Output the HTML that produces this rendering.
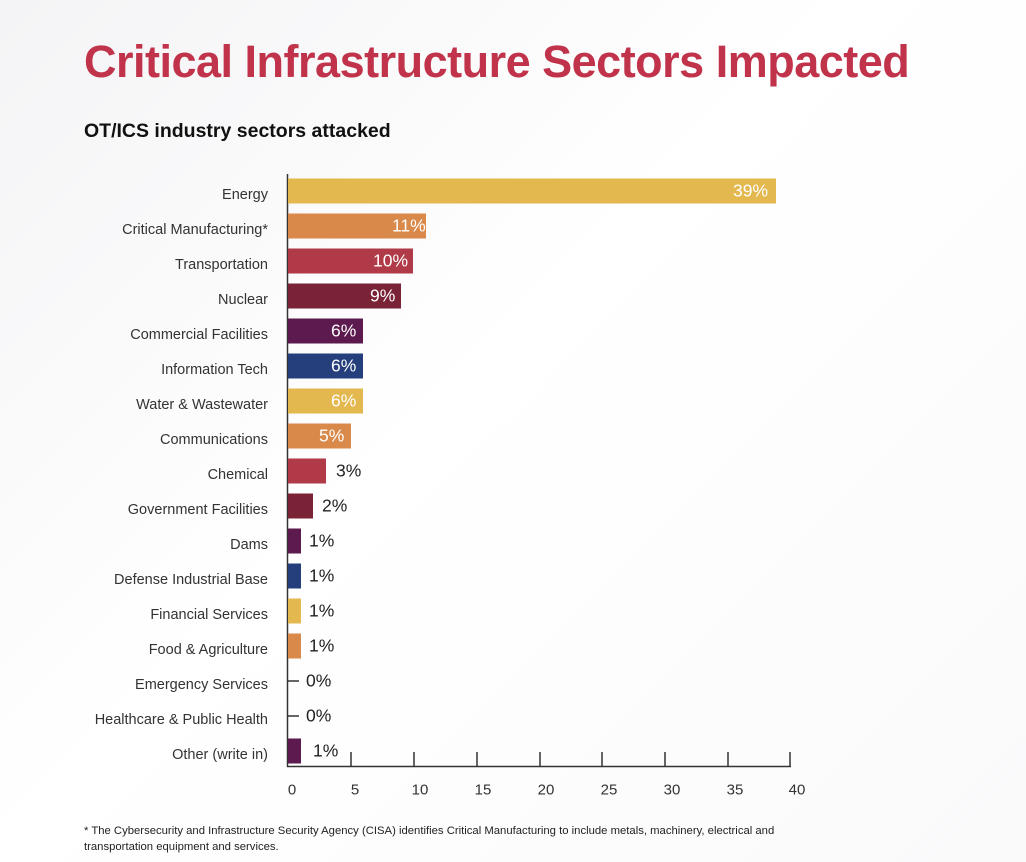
<!DOCTYPE html>
<html><head><meta charset="utf-8"><style>
body{margin:0;width:1026px;height:862px;background:#fff;font-family:"Liberation Sans",sans-serif;overflow:hidden;position:relative}
.bgs{position:absolute;left:0;top:0;width:1026px;height:862px;background:linear-gradient(135deg,#f4f4f6 0%,#fff 45%,#fafafb 100%)}
h1{position:absolute;left:84px;top:36px;margin:0;font-size:45px;font-weight:bold;color:#c0334a;letter-spacing:-0.5px}
h2{position:absolute;left:84px;top:120px;margin:0;font-size:19.5px;font-weight:bold;color:#111}
.lab{position:absolute;right:758px;font-size:14.5px;color:#333;white-space:nowrap;transform:translateY(-50%)}
.bar{position:absolute;left:288px;height:25px;transform:translateY(-50%)}
.v{position:absolute;font-size:17.5px;transform:translateY(-50%);white-space:nowrap}
.in{color:#fff}
.out{color:#222}
.tk{position:absolute;font-size:15px;color:#333;transform:translate(-50%,-50%)}
.fn{position:absolute;left:84px;font-size:11.3px;color:#222}
</style></head><body>
<div class="bgs"></div>
<h1>Critical Infrastructure Sectors Impacted</h1>
<h2>OT/ICS industry sectors attacked</h2>
<svg style="position:absolute;left:0;top:0" width="1026" height="862">
<line x1="287.5" y1="174" x2="287.5" y2="767" stroke="#333" stroke-width="1.5"/>
<line x1="287" y1="766.5" x2="791" y2="766.5" stroke="#333" stroke-width="1.5"/>
<g stroke="#333" stroke-width="1.5">
<line x1="351" y1="752" x2="351" y2="767"/><line x1="414" y1="752" x2="414" y2="767"/><line x1="477" y1="752" x2="477" y2="767"/><line x1="540" y1="752" x2="540" y2="767"/><line x1="602" y1="752" x2="602" y2="767"/><line x1="665" y1="752" x2="665" y2="767"/><line x1="728" y1="752" x2="728" y2="767"/><line x1="790" y1="752" x2="790" y2="767"/>
<line x1="288" y1="681" x2="299" y2="681"/><line x1="288" y1="716" x2="299" y2="716"/>
</g>
</svg>
<div class="lab" style="top:195px">Energy</div>
<div class="lab" style="top:230px">Critical Manufacturing*</div>
<div class="lab" style="top:265px">Transportation</div>
<div class="lab" style="top:300px">Nuclear</div>
<div class="lab" style="top:335px">Commercial Facilities</div>
<div class="lab" style="top:370px">Information Tech</div>
<div class="lab" style="top:405px">Water &amp; Wastewater</div>
<div class="lab" style="top:440px">Communications</div>
<div class="lab" style="top:475px">Chemical</div>
<div class="lab" style="top:510px">Government Facilities</div>
<div class="lab" style="top:545px">Dams</div>
<div class="lab" style="top:580px">Defense Industrial Base</div>
<div class="lab" style="top:615px">Financial Services</div>
<div class="lab" style="top:650px">Food &amp; Agriculture</div>
<div class="lab" style="top:685px">Emergency Services</div>
<div class="lab" style="top:720px">Healthcare &amp; Public Health</div>
<div class="lab" style="top:755px">Other (write in)</div>

<div class="bar" style="top:191px;width:488px;background:#e2b84f"></div><div class="v in" style="top:191px;left:733px">39%</div>
<div class="bar" style="top:226px;width:138px;background:#d9894a"></div><div class="v in" style="top:226px;left:392px">11%</div>
<div class="bar" style="top:261px;width:125px;background:#b03a48"></div><div class="v in" style="top:261px;left:373px">10%</div>
<div class="bar" style="top:296px;width:113px;background:#7a2236"></div><div class="v in" style="top:296px;left:370px">9%</div>
<div class="bar" style="top:331px;width:75px;background:#5c1a4e"></div><div class="v in" style="top:331px;left:331px">6%</div>
<div class="bar" style="top:366px;width:75px;background:#243f7c"></div><div class="v in" style="top:366px;left:331px">6%</div>
<div class="bar" style="top:401px;width:75px;background:#e2b84f"></div><div class="v in" style="top:401px;left:331px">6%</div>
<div class="bar" style="top:436px;width:63px;background:#d9894a"></div><div class="v in" style="top:436px;left:319px">5%</div>
<div class="bar" style="top:471px;width:38px;background:#b03a48"></div><div class="v out" style="top:471px;left:336px">3%</div>
<div class="bar" style="top:506px;width:25px;background:#7a2236"></div><div class="v out" style="top:506px;left:322px">2%</div>
<div class="bar" style="top:541px;width:13px;background:#5c1a4e"></div><div class="v out" style="top:541px;left:309px">1%</div>
<div class="bar" style="top:576px;width:13px;background:#243f7c"></div><div class="v out" style="top:576px;left:309px">1%</div>
<div class="bar" style="top:611px;width:13px;background:#e2b84f"></div><div class="v out" style="top:611px;left:309px">1%</div>
<div class="bar" style="top:646px;width:13px;background:#d9894a"></div><div class="v out" style="top:646px;left:309px">1%</div>
<div class="v out" style="top:681px;left:306px">0%</div>
<div class="v out" style="top:716px;left:306px">0%</div>
<div class="bar" style="top:751px;width:13px;background:#5c1a4e"></div><div class="v out" style="top:751px;left:313px">1%</div>

<div class="tk" style="left:292px;top:790px">0</div>
<div class="tk" style="left:355px;top:790px">5</div>
<div class="tk" style="left:420px;top:790px">10</div>
<div class="tk" style="left:483px;top:790px">15</div>
<div class="tk" style="left:546px;top:790px">20</div>
<div class="tk" style="left:609px;top:790px">25</div>
<div class="tk" style="left:672px;top:790px">30</div>
<div class="tk" style="left:735px;top:790px">35</div>
<div class="tk" style="left:797px;top:790px">40</div>

<div class="fn" style="top:825px">* The Cybersecurity and Infrastructure Security Agency (CISA) identifies Critical Manufacturing to include metals, machinery, electrical and</div>
<div class="fn" style="top:841px">transportation equipment and services.</div>
</body></html>
